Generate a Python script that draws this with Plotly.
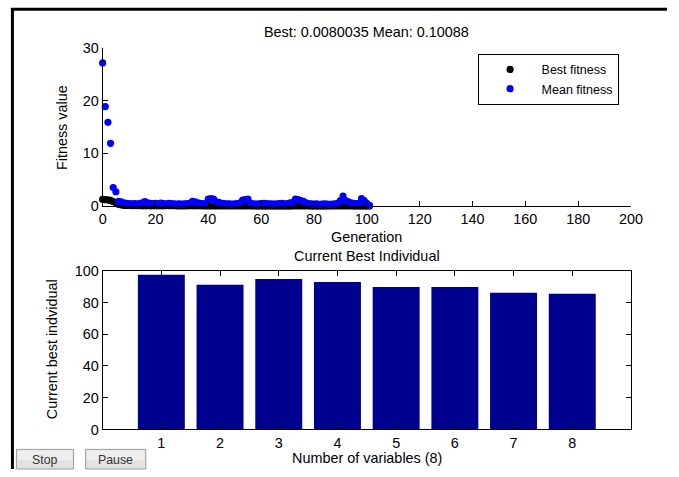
import plotly.graph_objects as go

# ---- data ----
generations = list(range(102))
mean_fitness = [27.2, 18.9, 15.9, 11.9, 3.5, 2.7, 0.9, 0.8, 0.6, 0.5,
                0.45, 0.4, 0.45, 0.4, 0.45, 0.6, 0.85, 0.6, 0.5, 0.45,
                0.5, 0.4, 0.55, 0.45, 0.4, 0.5, 0.45, 0.4, 0.35, 0.4,
                0.35, 0.4, 0.45, 0.5, 0.9, 0.8, 0.6, 0.5, 0.45, 0.4,
                1.3, 1.4, 1.3, 0.8, 0.7, 0.5, 0.45, 0.4, 0.4, 0.35,
                0.4, 0.45, 0.6, 1.1, 1.2, 1.3, 0.5, 0.4, 0.35, 0.4,
                0.45, 0.5, 0.45, 0.4, 0.4, 0.35, 0.4, 0.45, 0.5, 0.4,
                0.45, 0.6, 0.7, 1.3, 1.2, 1.0, 0.9, 0.6, 0.45, 0.4,
                0.35, 0.4, 0.3, 0.35, 0.4, 0.35, 0.3, 0.35, 0.4, 0.5,
                1.0, 1.9, 1.0, 0.8, 0.6, 0.5, 0.45, 0.5, 1.4, 1.0,
                0.5, 0.10088]
best_fitness = [1.25, 1.2, 1.15, 1.05, 0.85, 0.6, 0.35, 0.2, 0.12, 0.1,
                0.09, 0.08, 0.08, 0.07, 0.07, 0.06, 0.06, 0.06, 0.05, 0.05,
                0.05, 0.05, 0.045, 0.045, 0.04, 0.04, 0.04, 0.04, 0.035, 0.035,
                0.035, 0.035, 0.03, 0.03, 0.03, 0.03, 0.03, 0.03, 0.028, 0.028,
                0.028, 0.028, 0.025, 0.025, 0.025, 0.025, 0.025, 0.022, 0.022, 0.022,
                0.022, 0.022, 0.02, 0.02, 0.02, 0.02, 0.02, 0.02, 0.018, 0.018,
                0.018, 0.018, 0.018, 0.016, 0.016, 0.016, 0.016, 0.016, 0.015, 0.015,
                0.015, 0.015, 0.014, 0.014, 0.014, 0.014, 0.013, 0.013, 0.013, 0.012,
                0.012, 0.012, 0.011, 0.011, 0.011, 0.011, 0.01, 0.01, 0.01, 0.01,
                0.0095, 0.0095, 0.009, 0.009, 0.009, 0.0085, 0.0085, 0.0085, 0.0082, 0.0082,
                0.0080035, 0.0080035]
variables = [1, 2, 3, 4, 5, 6, 7, 8]
best_individual = [97.5, 91.2, 94.8, 92.9, 89.7, 89.7, 86.2, 85.5]

W, H = 679, 477
FONT = "Liberation Sans, Arial, Helvetica, sans-serif"
SX, OX = 0.974, 4.6   # measured page -> picture mapping
SY, OY = 0.970, 7.0
K = 1 / 0.972         # size compensation

def px(x):
    return min(1.0, max(0.0, ((x - OX) / SX) / W))

def py(y):
    return min(1.0, max(0.0, 1 - ((y - OY) / SY) / H))

FS = 14 * K

fig = go.Figure()
fig.add_trace(go.Scatter(x=generations, y=best_fitness, mode="markers",
                         marker=dict(color="black", size=7 * K), name="Best fitness",
                         cliponaxis=False, xaxis="x", yaxis="y"))
fig.add_trace(go.Scatter(x=generations, y=mean_fitness, mode="markers",
                         marker=dict(color="#0000FF", size=7 * K), name="Mean fitness",
                         cliponaxis=False, xaxis="x", yaxis="y"))
fig.add_trace(go.Bar(x=variables, y=best_individual, width=0.8,
                     marker=dict(color="#00008F", line=dict(width=0)),
                     showlegend=False, xaxis="x2", yaxis="y2"))

axis_common = dict(showline=True, linecolor="black", linewidth=1, ticks="inside",
                   ticklen=5, tickcolor="black", showgrid=False, zeroline=False,
                   tickfont=dict(family=FONT, size=FS, color="black"))

fig.update_layout(
    width=W, height=H,
    margin=dict(l=0, r=0, t=0, b=0),
    paper_bgcolor="white", plot_bgcolor="white",
    font=dict(family=FONT, size=FS, color="black"),
    xaxis=dict(domain=[px(103), px(630)], range=[0, 200], dtick=20, anchor="y",
               **axis_common),
    yaxis=dict(domain=[py(205.7), py(47.3)], range=[0, 30], dtick=10, anchor="x",
               **axis_common),
    xaxis2=dict(domain=[px(103), px(630)], range=[0, 9], tickvals=variables,
                anchor="y2", mirror="allticks", **axis_common),
    yaxis2=dict(domain=[py(430), py(270.7)], range=[0, 100], dtick=20, anchor="x2",
                mirror="allticks", **axis_common),
    bargap=0.2,
    legend=dict(x=px(477), y=py(53), xanchor="left", yanchor="top",
                bordercolor="black", borderwidth=1, bgcolor="white",
                font=dict(family=FONT, size=12.5, color="black"),
                itemwidth=53, tracegroupgap=0),
    showlegend=True,
)

annotations = [
    dict(text="Best: 0.0080035 Mean: 0.10088", x=px(366.5), y=py(31)),
    dict(text="Generation", x=px(366.5), y=py(237)),
    dict(text="Current Best Individual", x=px(366.5), y=py(256)),
    dict(text="Number of variables (8)", x=px(366.5), y=py(459)),
    dict(text="Fitness value", x=px(62), y=py(127), textangle=-90),
    dict(text="Current best indvidual", x=px(52), y=py(350), textangle=-90),
]
for a in annotations:
    fig.add_annotation(xref="paper", yref="paper", showarrow=False,
                       xanchor="center", yanchor="middle",
                       font=dict(family=FONT, size=FS, color="black"), **a)

# window frame
fig.add_shape(type="line", xref="paper", yref="paper", x0=px(13), x1=px(13),
              y0=0, y1=py(7), line=dict(color="black", width=3))
fig.add_shape(type="line", xref="paper", yref="paper", x0=px(11.5), x1=1,
              y0=py(8.3), y1=py(8.3), line=dict(color="black", width=3))

# buttons
for label, x0, x1 in [("Stop", 17, 74), ("Pause", 86, 146)]:
    fig.add_shape(type="rect", xref="paper", yref="paper", x0=px(x0), x1=px(x1),
                  y0=py(472), y1=py(450), fillcolor="#e2e2e2",
                  line=dict(color="#9c9c9c", width=1))
    fig.add_shape(type="rect", xref="paper", yref="paper", x0=px(x0 + 1), x1=px(x1 - 1),
                  y0=py(461), y1=py(451), fillcolor="#eeeeee",
                  line=dict(width=0))
    fig.add_annotation(xref="paper", yref="paper", showarrow=False, text=label,
                       x=px((x0 + x1) / 2), y=py(461), xanchor="center", yanchor="middle",
                       font=dict(family=FONT, size=12 * K, color="#333333"))

fig.write_html("out.html", config={"displayModeBar": False},
               post_script="document.documentElement.style.margin='0px';"
                           "document.body.style.margin='0px';"
                           "document.body.style.overflow='hidden';")
